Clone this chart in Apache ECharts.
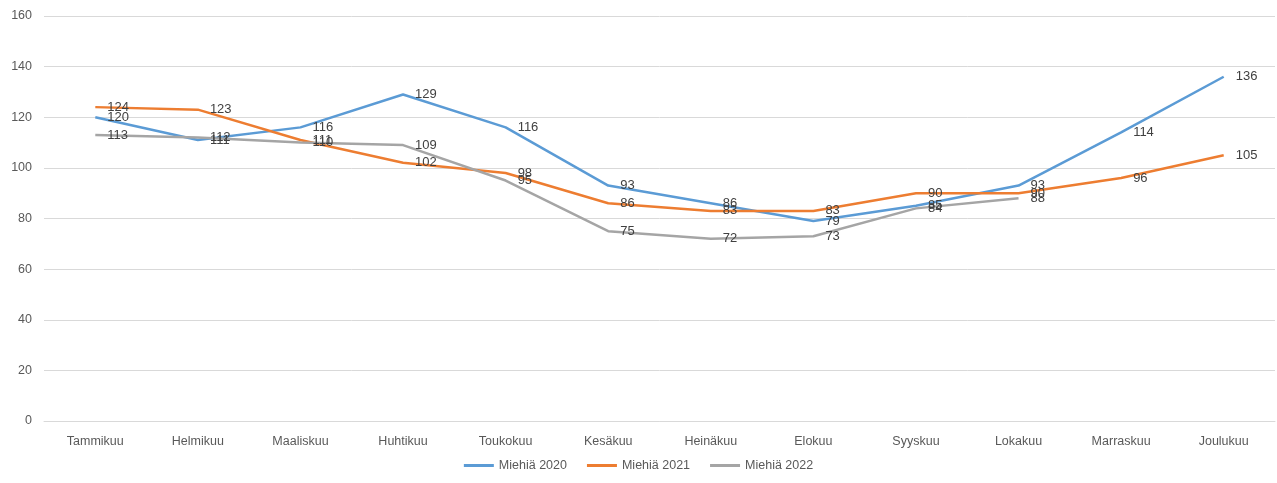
<!DOCTYPE html>
<html>
<head>
<meta charset="utf-8">
<script src="https://cdn.jsdelivr.net/npm/echarts@6/dist/echarts.min.js"></script>
<style>
  html, body { margin: 0; padding: 0; background: #fff; }
  #chart { width: 1277px; height: 483px; }
</style>
</head>
<body>
<div id="chart"></div>
<script>
const months = ['Tammikuu', 'Helmikuu', 'Maaliskuu', 'Huhtikuu', 'Toukokuu', 'Kesäkuu',
  'Heinäkuu', 'Elokuu', 'Syyskuu', 'Lokakuu', 'Marraskuu', 'Joulukuu']
const men2020 = [120, 111, 116, 129, 116, 93, 86, 79, 85, 93, 114, 136]
const men2021 = [124, 123, 111, 102, 98, 86, 83, 83, 90, 90, 96, 105]
const men2022 = [113, 112, 110, 109, 95, 75, 72, 73, 84, 88]
const seriesNames = ['Miehiä 2020', 'Miehiä 2021', 'Miehiä 2022']
const colors = ['#5B9BD5', '#ED7D31', '#A5A5A5']

const chart = echarts.init(document.getElementById('chart'))

const makeSeries = (name, data, color) => ({
  name,
  type: 'line',
  data,
  showSymbol: true,
  symbol: 'circle',
  symbolSize: 0,
  lineStyle: { color, width: 2.5 },
  itemStyle: { color },
  label: {
    show: true,
    position: 'right',
    distance: 12,
    color: '#404040',
    fontSize: 13,
    fontFamily: 'Liberation Sans, Arial, sans-serif'
  },
  labelLayout: { hideOverlap: false },
  emphasis: { disabled: true }
})

chart.setOption({
  animation: false,
  textStyle: { fontFamily: 'Liberation Sans, Arial, sans-serif' },
  grid: { left: 44, right: 2, top: 16, bottom: 62 },
  legend: {
    bottom: 6,
    itemWidth: 30,
    itemHeight: 3,
    itemGap: 20,
    icon: 'rect',
    textStyle: { color: '#595959', fontSize: 12.5 },
    data: seriesNames
  },
  xAxis: {
    type: 'category',
    data: months,
    boundaryGap: true,
    axisLine: { lineStyle: { color: '#D9D9D9' } },
    axisTick: { show: false },
    axisLabel: { color: '#595959', fontSize: 12.5, margin: 14 }
  },
  yAxis: {
    type: 'value',
    min: 0,
    max: 160,
    interval: 20,
    axisLine: { show: false },
    axisTick: { show: false },
    axisLabel: { color: '#595959', fontSize: 12.5, margin: 12 },
    splitLine: { lineStyle: { color: '#D9D9D9' } }
  },
  series: [
    makeSeries(seriesNames[0], men2020, colors[0]),
    makeSeries(seriesNames[1], men2021, colors[1]),
    makeSeries(seriesNames[2], men2022, colors[2])
  ]
})
</script>
</body>
</html>
